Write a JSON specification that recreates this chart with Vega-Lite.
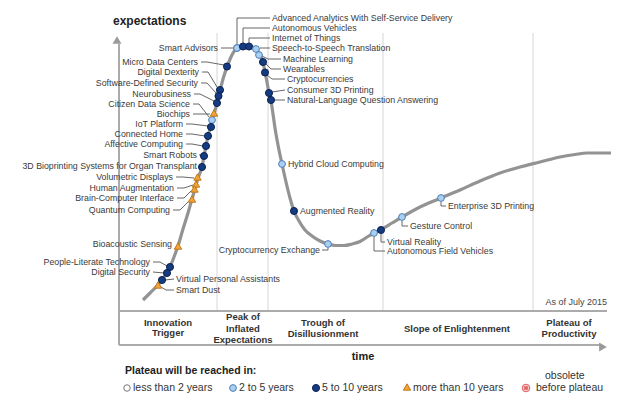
{
  "$schema": "https://vega.github.io/schema/vega-lite/v6.json",
  "width": 627,
  "height": 405,
  "padding": 0,
  "autosize": {"type": "none"},
  "background": "white",
  "config": {"view": {"stroke": null}, "font": "Liberation Sans"},
  "datasets": {
    "curve": [
      {"x":143,"y":300},{"x":150,"y":293},{"x":158,"y":285},{"x":162,"y":280},{"x":166,"y":274},{"x":170,"y":267},{"x":174,"y":257},{"x":178,"y":246},{"x":183,"y":229},{"x":188,"y":213},{"x":192,"y":199},{"x":195,"y":189},{"x":198,"y":178},{"x":202,"y":167},{"x":204,"y":156},{"x":206,"y":146},{"x":208,"y":136},{"x":211,"y":126},{"x":214,"y":114},{"x":217,"y":103},{"x":220,"y":91},{"x":223,"y":79},{"x":227,"y":67},{"x":231,"y":57},{"x":235,"y":50},{"x":240,"y":46.5},{"x":246,"y":45.5},{"x":251,"y":46.5},{"x":256,"y":49},{"x":260,"y":55},{"x":263,"y":62},{"x":265,"y":72},{"x":267,"y":82},{"x":269,"y":93},{"x":271,"y":101},{"x":273,"y":114},{"x":275,"y":128},{"x":278,"y":145},{"x":282,"y":164},{"x":286,"y":182},{"x":290,"y":198},{"x":294,"y":211},{"x":299,"y":221},{"x":305,"y":230},{"x":312,"y":236},{"x":320,"y":241},{"x":328,"y":244},{"x":336,"y":245.5},{"x":344,"y":245.5},{"x":352,"y":244},{"x":360,"y":241.5},{"x":368,"y":236.5},{"x":375,"y":232.5},{"x":381,"y":229.5},{"x":392,"y":223},{"x":402,"y":217},{"x":420,"y":207},{"x":441,"y":198},{"x":460,"y":190},{"x":480,"y":181},{"x":500,"y":173},{"x":520,"y":167},{"x":540,"y":162},{"x":560,"y":157},{"x":575,"y":154.5},{"x":587,"y":153},{"x":600,"y":153},{"x":611,"y":153}
    ],
    "vlines": [
      {"x":217,"y":33,"y2":311},{"x":268,"y":33,"y2":311},{"x":383,"y":33,"y2":311},{"x":533,"y":33,"y2":311}
    ],
    "frame": [
      {"x":119,"y":44,"x2":119,"y2":345},
      {"x":119,"y":311,"x2":607,"y2":311},
      {"x":119,"y":345,"x2":600,"y2":345}
    ],
    "leaders": [
      {"x":270,"y":18,"x2":237,"y2":18},{"x":237,"y":18,"x2":237,"y2":44},
      {"x":270,"y":28,"x2":243,"y2":28},{"x":243,"y":28,"x2":243,"y2":43},
      {"x":270,"y":38,"x2":249,"y2":38},{"x":249,"y":38,"x2":249,"y2":43},
      {"x":260,"y":48,"x2":270,"y2":48},
      {"x":262,"y":56,"x2":268,"y2":59},{"x":268,"y":59,"x2":281,"y2":59},
      {"x":266,"y":64,"x2":271,"y2":69},{"x":271,"y":69,"x2":281,"y2":69},
      {"x":267,"y":75,"x2":272,"y2":79},{"x":272,"y":79,"x2":285,"y2":79},
      {"x":272,"y":92,"x2":285,"y2":90},
      {"x":274,"y":100,"x2":285,"y2":100},
      {"x":221,"y":48,"x2":233,"y2":48},
      {"x":201,"y":62,"x2":207,"y2":62},{"x":207,"y":62,"x2":224,"y2":65},
      {"x":202,"y":72,"x2":208,"y2":72},{"x":208,"y":72,"x2":217,"y2":87},
      {"x":201,"y":83,"x2":207,"y2":83},{"x":207,"y":83,"x2":216,"y2":93},
      {"x":194,"y":94,"x2":200,"y2":94},{"x":200,"y":94,"x2":214,"y2":101},
      {"x":193,"y":104,"x2":199,"y2":104},{"x":199,"y":104,"x2":209,"y2":117},
      {"x":193,"y":114,"x2":210,"y2":114},
      {"x":186,"y":124,"x2":192,"y2":124},{"x":192,"y":124,"x2":208,"y2":126},
      {"x":186,"y":134,"x2":192,"y2":134},{"x":192,"y":134,"x2":205,"y2":136},
      {"x":186,"y":144,"x2":192,"y2":144},{"x":192,"y":144,"x2":203,"y2":146},
      {"x":199,"y":155,"x2":201,"y2":155},
      {"x":176,"y":177,"x2":183,"y2":177},{"x":183,"y":177,"x2":194,"y2":178},
      {"x":177,"y":188,"x2":184,"y2":188},{"x":184,"y":188,"x2":193,"y2":185},
      {"x":177,"y":198,"x2":184,"y2":198},{"x":184,"y":198,"x2":191,"y2":191},
      {"x":173,"y":210,"x2":180,"y2":210},{"x":180,"y":210,"x2":189,"y2":201},
      {"x":153,"y":262,"x2":160,"y2":262},{"x":160,"y":262,"x2":167,"y2":266},
      {"x":153,"y":272,"x2":164,"y2":273},
      {"x":165,"y":280,"x2":174,"y2":279},
      {"x":161,"y":287,"x2":166,"y2":290},{"x":166,"y":290,"x2":174,"y2":290},
      {"x":322,"y":250,"x2":328,"y2":250},{"x":328,"y":250,"x2":328,"y2":248},
      {"x":374,"y":237,"x2":374,"y2":251},{"x":374,"y":251,"x2":385,"y2":251},
      {"x":381,"y":234,"x2":381,"y2":242},{"x":381,"y":242,"x2":385,"y2":242},
      {"x":402,"y":221,"x2":402,"y2":226},{"x":402,"y":226,"x2":408,"y2":226},
      {"x":441,"y":202,"x2":441,"y2":206},{"x":441,"y":206,"x2":446,"y2":206}
    ],
    "tech": [
      {"name":"Advanced Analytics With Self-Service Delivery","cat":"2 to 5 years","x":237,"y":48},
      {"name":"Smart Advisors","cat":"2 to 5 years","x":237,"y":48},
      {"name":"Autonomous Vehicles","cat":"5 to 10 years","x":243,"y":46.5},
      {"name":"Internet of Things","cat":"5 to 10 years","x":249,"y":46.5},
      {"name":"Speech-to-Speech Translation","cat":"2 to 5 years","x":256,"y":49},
      {"name":"Machine Learning","cat":"2 to 5 years","x":259,"y":55},
      {"name":"Wearables","cat":"5 to 10 years","x":263,"y":62},
      {"name":"Cryptocurrencies","cat":"5 to 10 years","x":265,"y":72.5},
      {"name":"Consumer 3D Printing","cat":"5 to 10 years","x":269,"y":93},
      {"name":"Natural-Language Question Answering","cat":"5 to 10 years","x":271,"y":100},
      {"name":"Micro Data Centers","cat":"5 to 10 years","x":227,"y":66.5},
      {"name":"Digital Dexterity","cat":"5 to 10 years","x":220,"y":90},
      {"name":"Software-Defined Security","cat":"5 to 10 years","x":218.5,"y":96},
      {"name":"Neurobusiness","cat":"5 to 10 years","x":217,"y":103},
      {"name":"Citizen Data Science","cat":"2 to 5 years","x":212,"y":120},
      {"name":"Biochips","cat":"more than 10 years","x":214,"y":113},
      {"name":"IoT Platform","cat":"5 to 10 years","x":211,"y":127},
      {"name":"Connected Home","cat":"5 to 10 years","x":208,"y":136},
      {"name":"Affective Computing","cat":"5 to 10 years","x":206,"y":146},
      {"name":"Smart Robots","cat":"5 to 10 years","x":204,"y":156},
      {"name":"3D Bioprinting Systems for Organ Transplant","cat":"5 to 10 years","x":202,"y":167},
      {"name":"Volumetric Displays","cat":"more than 10 years","x":197.5,"y":177},
      {"name":"Human Augmentation","cat":"more than 10 years","x":196,"y":184},
      {"name":"Brain-Computer Interface","cat":"more than 10 years","x":194.5,"y":189},
      {"name":"Quantum Computing","cat":"more than 10 years","x":192,"y":199},
      {"name":"Bioacoustic Sensing","cat":"more than 10 years","x":178,"y":246},
      {"name":"People-Literate Technology","cat":"5 to 10 years","x":170,"y":267},
      {"name":"Digital Security","cat":"5 to 10 years","x":167,"y":273},
      {"name":"Virtual Personal Assistants","cat":"5 to 10 years","x":162,"y":280},
      {"name":"Smart Dust","cat":"more than 10 years","x":158,"y":285},
      {"name":"Hybrid Cloud Computing","cat":"2 to 5 years","x":282,"y":164},
      {"name":"Augmented Reality","cat":"5 to 10 years","x":294,"y":211},
      {"name":"Cryptocurrency Exchange","cat":"2 to 5 years","x":328,"y":244},
      {"name":"Autonomous Field Vehicles","cat":"2 to 5 years","x":374,"y":233},
      {"name":"Virtual Reality","cat":"5 to 10 years","x":381,"y":230},
      {"name":"Gesture Control","cat":"2 to 5 years","x":402,"y":217},
      {"name":"Enterprise 3D Printing","cat":"2 to 5 years","x":441,"y":198},
      {"name":"legend1","cat":"less than 2 years","x":127,"y":388},
      {"name":"legend2","cat":"2 to 5 years","x":233,"y":388},
      {"name":"legend3","cat":"5 to 10 years","x":316,"y":388},
      {"name":"legend4","cat":"more than 10 years","x":407,"y":387},
      {"name":"legend5","cat":"obsolete before plateau","x":526,"y":388}
    ],
    "labelsL": [
      {"text":"Smart Advisors","x":218,"y":48},
      {"text":"Micro Data Centers","x":198,"y":62},
      {"text":"Digital Dexterity","x":199,"y":72},
      {"text":"Software-Defined Security","x":198,"y":83},
      {"text":"Neurobusiness","x":191,"y":94},
      {"text":"Citizen Data Science","x":190,"y":104},
      {"text":"Biochips","x":190,"y":114},
      {"text":"IoT Platform","x":183,"y":124},
      {"text":"Connected Home","x":183,"y":134},
      {"text":"Affective Computing","x":183,"y":144},
      {"text":"Smart Robots","x":197,"y":155},
      {"text":"3D Bioprinting Systems for Organ Transplant","x":197,"y":166},
      {"text":"Volumetric Displays","x":173,"y":177},
      {"text":"Human Augmentation","x":174,"y":188},
      {"text":"Brain-Computer Interface","x":174,"y":198},
      {"text":"Quantum Computing","x":170,"y":210},
      {"text":"Bioacoustic Sensing","x":172,"y":244},
      {"text":"People-Literate Technology","x":150,"y":262},
      {"text":"Digital Security","x":150,"y":272},
      {"text":"Cryptocurrency Exchange","x":320,"y":250}
    ],
    "labelsR": [
      {"text":"Advanced Analytics With Self-Service Delivery","x":272,"y":18},
      {"text":"Autonomous Vehicles","x":272,"y":28},
      {"text":"Internet of Things","x":272,"y":38},
      {"text":"Speech-to-Speech Translation","x":272,"y":48},
      {"text":"Machine Learning","x":283,"y":59},
      {"text":"Wearables","x":283,"y":69},
      {"text":"Cryptocurrencies","x":287,"y":79},
      {"text":"Consumer 3D Printing","x":287,"y":90},
      {"text":"Natural-Language Question Answering","x":287,"y":100},
      {"text":"Hybrid Cloud Computing","x":288,"y":164},
      {"text":"Augmented Reality","x":300,"y":211},
      {"text":"Virtual Reality","x":387,"y":242},
      {"text":"Autonomous Field Vehicles","x":387,"y":251},
      {"text":"Gesture Control","x":410,"y":226},
      {"text":"Enterprise 3D Printing","x":448,"y":206},
      {"text":"Virtual Personal Assistants","x":176,"y":279},
      {"text":"Smart Dust","x":176,"y":290}
    ],
    "phases": [
      {"text":"Innovation","x":168,"y":323},{"text":"Trigger","x":168,"y":333},
      {"text":"Peak of","x":243,"y":317},{"text":"Inflated","x":243,"y":329},{"text":"Expectations","x":243,"y":340},
      {"text":"Trough of","x":323,"y":323},{"text":"Disillusionment","x":323,"y":334},
      {"text":"Slope of Enlightenment","x":457,"y":329},
      {"text":"Plateau of","x":569,"y":323},{"text":"Productivity","x":569,"y":334}
    ],
    "legendText": [
      {"text":"less than 2 years","x":133,"y":388},
      {"text":"2 to 5 years","x":239,"y":388},
      {"text":"5 to 10 years","x":322,"y":388},
      {"text":"more than 10 years","x":413,"y":388},
      {"text":"obsolete","x":545,"y":376},
      {"text":"before plateau","x":536,"y":388}
    ]
  },
  "encoding": {
    "x": {"field":"x","type":"quantitative","scale":{"domain":[0,627],"nice":false,"zero":false},"axis":null},
    "y": {"field":"y","type":"quantitative","scale":{"domain":[0,405],"nice":false,"zero":false,"reverse":true},"axis":null}
  },
  "layer": [
    {"data":{"name":"vlines"},"mark":{"type":"rule","color":"#d6d6d6","strokeWidth":1},"encoding":{"y2":{"field":"y2"}}},
    {"data":{"name":"frame"},"mark":{"type":"rule","color":"#ababab","strokeWidth":2},"encoding":{"x2":{"field":"x2"},"y2":{"field":"y2"}}},
    {"data":{"values":[{"x":117,"y":40}]},"mark":{"type":"point","shape":"triangle-up","filled":true,"size":80,"color":"#9a9a9a","opacity":1}},
    {"data":{"values":[{"x":603,"y":347}]},"mark":{"type":"point","shape":"triangle-right","filled":true,"size":80,"color":"#9a9a9a","opacity":1}},
    {"data":{"name":"curve"},"mark":{"type":"line","color":"#939393","strokeWidth":3.2,"interpolate":"monotone"},"encoding":{}},
    {"data":{"name":"leaders"},"mark":{"type":"rule","color":"#555555","strokeWidth":0.9},"encoding":{"x2":{"field":"x2"},"y2":{"field":"y2"}}},
    {"data":{"name":"tech"},"mark":{"type":"point","filled":true,"opacity":1,"strokeWidth":1},
     "encoding":{
       "shape":{"field":"cat","type":"nominal","scale":{"domain":["less than 2 years","2 to 5 years","5 to 10 years","more than 10 years","obsolete before plateau"],"range":["circle","circle","circle","triangle-up","circle"]},"legend":null},
       "fill":{"field":"cat","type":"nominal","scale":{"domain":["less than 2 years","2 to 5 years","5 to 10 years","more than 10 years","obsolete before plateau"],"range":["#ffffff","#a9d0f0","#153c80","#f3a33a","#f7d0d0"]},"legend":null},
       "stroke":{"field":"cat","type":"nominal","scale":{"domain":["less than 2 years","2 to 5 years","5 to 10 years","more than 10 years","obsolete before plateau"],"range":["#777777","#4f7fb5","#0a2150","#c07818","#e06060"]},"legend":null},
       "size":{"field":"cat","type":"nominal","scale":{"domain":["less than 2 years","2 to 5 years","5 to 10 years","more than 10 years","obsolete before plateau"],"range":[42,58,62,95,42]},"legend":null}
     }},
    {"data":{"values":[{"x":526,"y":388}]},"mark":{"type":"point","shape":"cross","angle":45,"filled":true,"size":22,"color":"#e06060","opacity":1}},
    {"data":{"name":"labelsL"},"mark":{"type":"text","align":"right","baseline":"middle","fontSize":8.8,"color":"#3a3a3a"},"encoding":{"text":{"field":"text"}}},
    {"data":{"name":"labelsR"},"mark":{"type":"text","align":"left","baseline":"middle","fontSize":8.8,"color":"#3a3a3a"},"encoding":{"text":{"field":"text"}}},
    {"data":{"name":"phases"},"mark":{"type":"text","align":"center","baseline":"middle","fontSize":9.5,"fontWeight":"bold","color":"#333333"},"encoding":{"text":{"field":"text"}}},
    {"data":{"name":"legendText"},"mark":{"type":"text","align":"left","baseline":"middle","fontSize":10.5,"color":"#333333"},"encoding":{"text":{"field":"text"}}},
    {"data":{"values":[{"text":"expectations","x":113,"y":25}]},"mark":{"type":"text","align":"left","baseline":"alphabetic","fontSize":12,"fontWeight":"bold","color":"#222222"},"encoding":{"text":{"field":"text"}}},
    {"data":{"values":[{"text":"time","x":363,"y":357}]},"mark":{"type":"text","align":"center","baseline":"middle","fontSize":11,"fontWeight":"bold","color":"#222222"},"encoding":{"text":{"field":"text"}}},
    {"data":{"values":[{"text":"Plateau will be reached in:","x":125,"y":371}]},"mark":{"type":"text","align":"left","baseline":"middle","fontSize":10.5,"fontWeight":"bold","color":"#222222"},"encoding":{"text":{"field":"text"}}},
    {"data":{"values":[{"text":"As of July 2015","x":607,"y":302}]},"mark":{"type":"text","align":"right","baseline":"middle","fontSize":9,"color":"#444444"},"encoding":{"text":{"field":"text"}}}
  ]
}
